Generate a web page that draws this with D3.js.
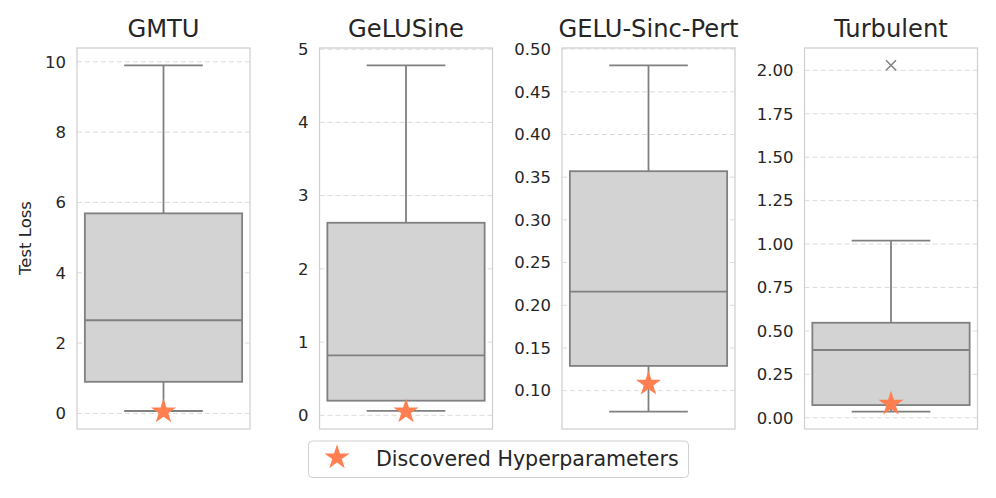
<!DOCTYPE html>
<html>
<head>
<meta charset="utf-8">
<script src="https://cdn.jsdelivr.net/npm/d3@7"></script>
<style>
  body { margin: 0; background: #fff; }
  svg { font-family: "DejaVu Sans", sans-serif; }
</style>
</head>
<body>
<svg id="chart" width="996" height="498"></svg>
<script>
const names = ['GMTU', 'GeLUSine', 'GELU-Sinc-Pert', 'Turbulent'];
const whiskLo = [0.07, 0.06, 0.0754, 0.035];
const q1 = [0.90, 0.20, 0.129, 0.073];
const median = [2.65, 0.82, 0.216, 0.39];
const q3 = [5.69, 2.63, 0.357, 0.547];
const whiskHi = [9.90, 4.78, 0.481, 1.02];
const outliers = [[], [], [], [2.029]];
const discovered = [0.05, 0.05, 0.108, 0.08];
const tickLabels = [
  ['0', '2', '4', '6', '8', '10'],
  ['0', '1', '2', '3', '4', '5'],
  ['0.10', '0.15', '0.20', '0.25', '0.30', '0.35', '0.40', '0.45', '0.50'],
  ['0.00', '0.25', '0.50', '0.75', '1.00', '1.25', '1.50', '1.75', '2.00']
];
const legendLabel = 'Discovered Hyperparameters';

const svg = d3.select('#chart');
const panelLeft = [77, 319.5, 562, 804.5];
const panelW = 173;
const plotTop = 48, plotBottom = 429;
const boxColor = '#d3d3d3', lineColor = '#808080', starColor = '#ff7f50';
const textColor = '#262626';
const star = d3.symbol().type(d3.symbolStar).size(195);

names.forEach((name, i) => {
  const lo = d3.min([whiskLo[i], discovered[i], ...outliers[i]]);
  const hi = d3.max([whiskHi[i], discovered[i], ...outliers[i]]);
  const pad = (hi - lo) * 0.05;
  const y = d3.scaleLinear().domain([lo - pad, hi + pad]).range([plotBottom, plotTop]);
  const x = d3.scaleBand().domain([name]).range([panelLeft[i], panelLeft[i] + panelW])
    .paddingInner(0).paddingOuter(0.05);
  const g = svg.append('g');

  // grid
  g.selectAll('line.grid').data(tickLabels[i]).enter().append('line')
    .attr('x1', panelLeft[i]).attr('x2', panelLeft[i] + panelW)
    .attr('y1', d => y(+d)).attr('y2', d => y(+d))
    .attr('stroke', '#dcdcdc').attr('stroke-width', 1)
    .attr('stroke-dasharray', '5,3');

  // frame
  g.append('rect')
    .attr('x', panelLeft[i]).attr('y', plotTop)
    .attr('width', panelW).attr('height', plotBottom - plotTop)
    .attr('fill', 'none').attr('stroke', '#d0d0d0').attr('stroke-width', 1.25);

  // tick labels
  g.selectAll('text.tick').data(tickLabels[i]).enter().append('text')
    .attr('x', panelLeft[i] - 11).attr('y', d => y(+d))
    .attr('dy', '0.35em').attr('text-anchor', 'end')
    .attr('font-size', 16.5).attr('fill', textColor)
    .text(d => d);

  // title
  g.append('text')
    .attr('x', panelLeft[i] + panelW / 2).attr('y', 37)
    .attr('text-anchor', 'middle').attr('font-size', 24.2).attr('fill', textColor)
    .text(name);

  const cx = x(name) + x.bandwidth() / 2;
  const bw = x.bandwidth();

  // whiskers
  g.append('line').attr('x1', cx).attr('x2', cx)
    .attr('y1', y(q3[i])).attr('y2', y(whiskHi[i]))
    .attr('stroke', lineColor).attr('stroke-width', 1.8);
  g.append('line').attr('x1', cx).attr('x2', cx)
    .attr('y1', y(q1[i])).attr('y2', y(whiskLo[i]))
    .attr('stroke', lineColor).attr('stroke-width', 1.8);
  [whiskHi[i], whiskLo[i]].forEach(v => {
    g.append('line').attr('x1', cx - bw / 4).attr('x2', cx + bw / 4)
      .attr('y1', y(v)).attr('y2', y(v))
      .attr('stroke', lineColor).attr('stroke-width', 1.8);
  });

  // box
  g.append('rect')
    .attr('x', x(name)).attr('y', y(q3[i]))
    .attr('width', bw).attr('height', y(q1[i]) - y(q3[i]))
    .attr('fill', boxColor).attr('stroke', lineColor).attr('stroke-width', 1.8);
  g.append('line').attr('x1', x(name)).attr('x2', x(name) + bw)
    .attr('y1', y(median[i])).attr('y2', y(median[i]))
    .attr('stroke', lineColor).attr('stroke-width', 1.8);

  // outliers
  outliers[i].forEach(v => {
    const s = 5;
    g.append('path')
      .attr('d', `M${cx - s},${y(v) - s}L${cx + s},${y(v) + s}M${cx - s},${y(v) + s}L${cx + s},${y(v) - s}`)
      .attr('stroke', lineColor).attr('stroke-width', 1.5).attr('fill', 'none');
  });

  // discovered hyperparameters
  g.append('path').attr('d', star)
    .attr('transform', `translate(${cx},${y(discovered[i])})`)
    .attr('fill', starColor);
});

// y label
svg.append('text')
  .attr('transform', 'translate(31,238) rotate(-90)')
  .attr('text-anchor', 'middle').attr('font-size', 16.5).attr('fill', textColor)
  .text('Test Loss');

// legend
const leg = svg.append('g');
leg.append('rect')
  .attr('x', 308.5).attr('y', 441).attr('width', 380).attr('height', 36.5)
  .attr('rx', 4).attr('fill', '#fff').attr('stroke', '#d0d0d0').attr('stroke-width', 1);
leg.append('path').attr('d', star)
  .attr('transform', 'translate(337,457.5)').attr('fill', starColor);
leg.append('text')
  .attr('x', 376).attr('y', 459).attr('dy', '0.35em')
  .attr('font-size', 20.6).attr('fill', textColor)
  .text(legendLabel);
</script>
</body>
</html>
